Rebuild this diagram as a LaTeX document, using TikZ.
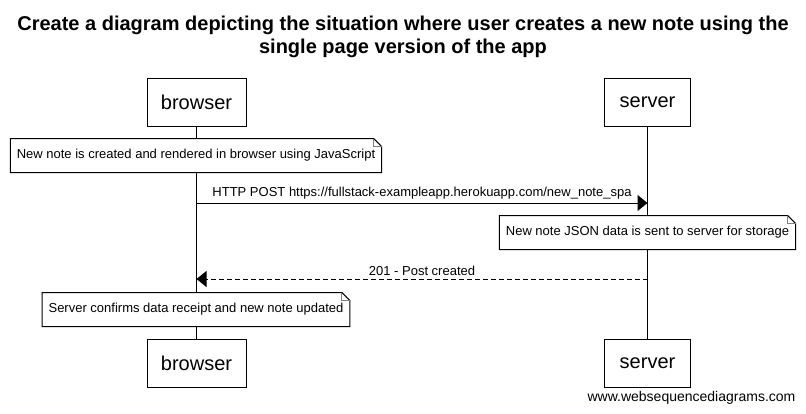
\documentclass[tikz,border=0pt]{standalone}
\usepackage{fontspec}
\setmainfont{Liberation Sans}
\usetikzlibrary{arrows.meta, positioning}

\begin{document}
\begin{tikzpicture}[
    x=1pt, y=-1pt,
    line width=1pt,
    every node/.style={font=\fontsize{13}{15}\selectfont},
    actor/.style={rectangle, draw=black, fill=white, minimum width=99pt, minimum height=48pt, font=\fontsize{20}{24}\selectfont},
    notebox/.style={rectangle, fill=white, minimum height=33pt, inner xsep=6pt},
    msg/.style={-{Triangle[length=10pt, width=16pt]}},
    reply/.style={msg, dash pattern=on 5pt off 3pt}
]
\useasboundingbox (0,0) rectangle (806,413);

% Title
\node[font=\bfseries\fontsize{20}{23}\selectfont, align=center] (title) at (403,36.5)
    {Create a diagram depicting the situation where user creates a new note using the\\single page version of the app};

% Participants
\node[actor] (browserTop) at (196.5,102) {browser};
\node[actor, minimum width=86pt] (serverTop) at (647.5,102) {server};
\node[actor] (browserBot) at (196.5,363.5) {browser};
\node[actor, minimum width=86pt] (serverBot) at (647.5,363.5) {server};

% Lifelines
\draw (browserTop) -- (browserBot);
\draw (serverTop) -- (serverBot);

% Notes
\node[notebox] (note1) at (196,155.5) {New note is created and rendered in browser using JavaScript};
\node[notebox] (note2) at (647.5,232.5) {New note JSON data is sent to server for storage};
\node[notebox] (note3) at (196,309.5) {Server confirms data receipt and new note updated};
\foreach \n in {note1,note2,note3} {
    \draw (\n.north west) -- ([xshift=-8pt]\n.north east) -- ([yshift=-8pt]\n.north east) -- (\n.south east) -- (\n.south west) -- cycle;
    \draw[gray] ([xshift=-8pt]\n.north east) |- ([yshift=-8pt]\n.north east);
}

% Messages
\coordinate (postFrom) at (browserTop.south |- 0,203);
\coordinate (postTo) at (serverTop.south |- 0,203);
\coordinate (replyFrom) at (serverTop.south |- 0,279);
\coordinate (replyTo) at (browserTop.south |- 0,279);
\draw[msg] (postFrom) -- node[above] (postLabel) {HTTP POST https://fullstack-exampleapp.herokuapp.com/new\_note\_spa} (postTo);
\draw[reply] (replyFrom) -- node[above=0pt] (replyLabel) {201 - Post created} (replyTo);

% Watermark
\node[font=\fontsize{14}{16}\selectfont] (watermark) at (691.5,398) {www.websequencediagrams.com};

\end{tikzpicture}
\end{document}
